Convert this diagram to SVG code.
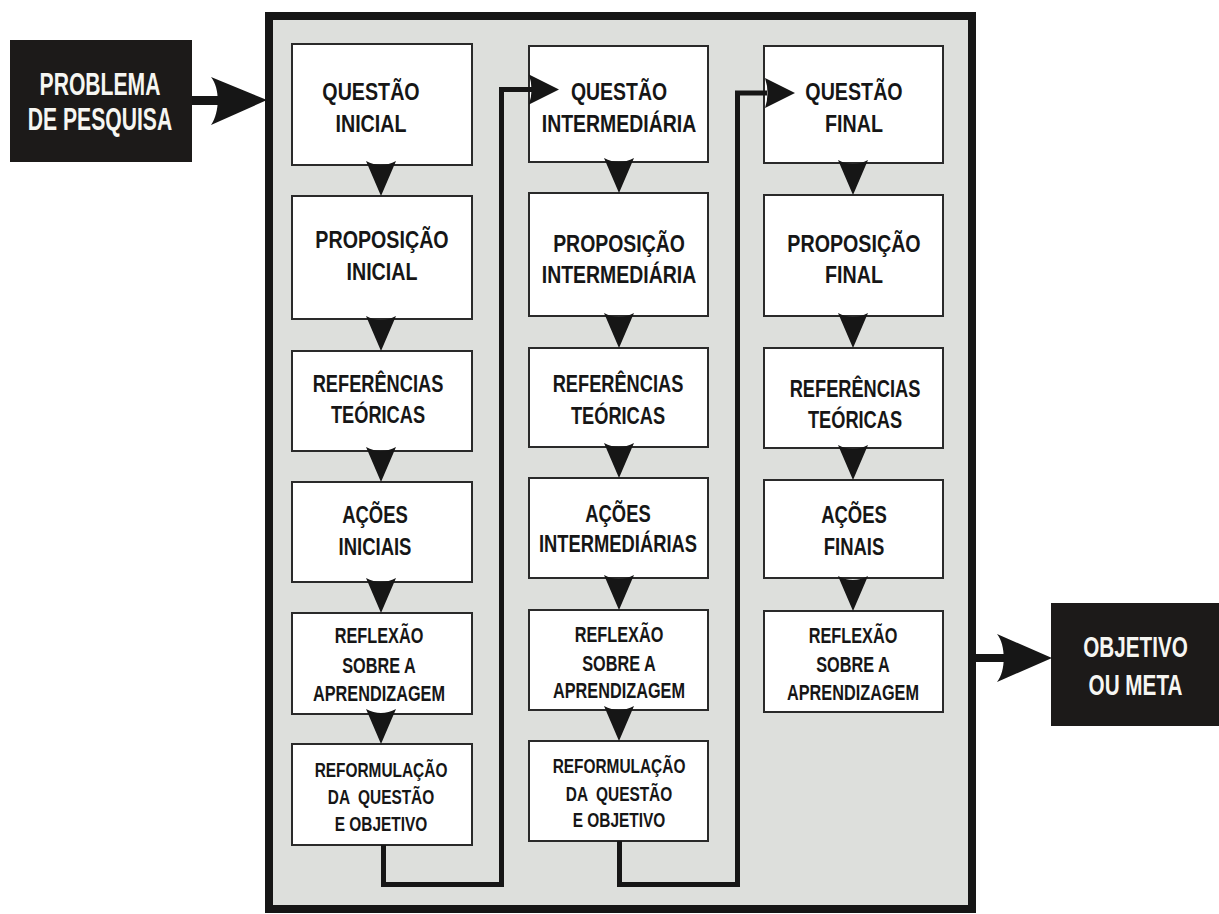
<svg xmlns="http://www.w3.org/2000/svg" width="1219" height="914" viewBox="0 0 1219 914">
  <style>
    text { font-family: "Liberation Sans", Arial, sans-serif; font-weight: bold; text-anchor: middle; fill: #161616; }
    .box { fill: #ffffff; stroke: #2a2a2a; stroke-width: 2; }
    .dark { fill: #1c1a19; }
    .dark-t { fill: #f6f6f2; font-size: 32px; }
    .dark-o { fill: #f6f6f2; font-size: 30px; }
    .t1 { font-size: 24px; }
    .t2 { font-size: 24px; }
    .t3 { font-size: 22px; }
    .t4 { font-size: 21px; }
    .wire { fill: none; stroke: #161616; stroke-width: 5; stroke-linejoin: miter; }
    .head { fill: #161616; }
  </style>
  <defs>
    <!-- downward arrowhead, tip at origin -->
    <path id="dn" d="M0,0 L-15,-35 Q0,-27 15,-35 Z"/>
    <!-- rightward arrowhead, tip at origin -->
    <path id="rt" d="M0,0 L-30,-15 Q-25,0 -30,15 Z"/>
  </defs>

  <rect width="1219" height="914" fill="#ffffff"/>

  <!-- frame around the three columns -->
  <g id="frame">
    <rect x="269" y="16" width="703" height="893" fill="#dddfdc" stroke="#161616" stroke-width="8"/>
  </g>

  <!-- external nodes -->
  <g id="n-problema">
    <rect class="dark" x="10" y="40" width="182" height="122"/>
    <g transform="translate(100 0) scale(0.66 1)">
      <text class="dark-t" x="0" y="95">PROBLEMA</text>
      <text class="dark-t" x="0" y="130">DE PESQUISA</text>
    </g>
  </g>
  <g id="n-objetivo">
    <rect class="dark" x="1051" y="603" width="168" height="123"/>
    <g transform="translate(1135.5 0) scale(0.69 1)">
      <text class="dark-o" x="0" y="657">OBJETIVO</text>
      <text class="dark-o" x="0" y="695">OU META</text>
    </g>
  </g>

  <!-- column 1 -->
  <g id="n-q1">
    <rect class="box" x="292" y="44" width="180" height="121"/>
    <g transform="translate(371 0) scale(0.82 1)">
      <text class="t1" x="0" y="100">QUESTÃO</text>
      <text class="t1" x="0" y="132">INICIAL</text>
    </g>
  </g>
  <g id="n-p1">
    <rect class="box" x="292" y="196" width="180" height="123"/>
    <g transform="translate(382 0) scale(0.82 1)">
      <text class="t1" x="0" y="248">PROPOSIÇÃO</text>
      <text class="t1" x="0" y="280">INICIAL</text>
    </g>
  </g>
  <g id="n-r1">
    <rect class="box" x="292" y="351" width="180" height="100"/>
    <g transform="translate(378 0) scale(0.76 1)">
      <text class="t2" x="0" y="392">REFERÊNCIAS</text>
      <text class="t2" x="0" y="423">TEÓRICAS</text>
    </g>
  </g>
  <g id="n-a1">
    <rect class="box" x="292" y="482" width="180" height="100"/>
    <g transform="translate(375 0) scale(0.77 1)">
      <text class="t2" x="0" y="523">AÇÕES</text>
      <text class="t2" x="0" y="555">INICIAIS</text>
    </g>
  </g>
  <g id="n-x1">
    <rect class="box" x="292" y="613" width="180" height="101"/>
    <g transform="translate(379 0) scale(0.74 1)">
      <text class="t3" x="0" y="643">REFLEXÃO</text>
      <text class="t3" x="0" y="673">SOBRE A</text>
      <text class="t3" x="0" y="701">APRENDIZAGEM</text>
    </g>
  </g>
  <g id="n-m1">
    <rect class="box" x="292" y="744" width="180" height="101"/>
    <g transform="translate(381 0) scale(0.735 1)">
      <text class="t4" x="0" y="777">REFORMULAÇÃO</text>
      <text class="t4" x="0" y="804" xml:space="preserve">DA  QUESTÃO</text>
      <text class="t4" x="0" y="831">E OBJETIVO</text>
    </g>
  </g>

  <!-- column 2 -->
  <g id="n-q2">
    <rect class="box" x="529" y="46" width="179" height="116"/>
    <g transform="translate(619 0) scale(0.81 1)">
      <text class="t1" x="0" y="100">QUESTÃO</text>
      <text class="t1" x="0" y="132">INTERMEDIÁRIA</text>
    </g>
  </g>
  <g id="n-p2">
    <rect class="box" x="529" y="193" width="179" height="123"/>
    <g transform="translate(619 0) scale(0.81 1)">
      <text class="t1" x="0" y="252">PROPOSIÇÃO</text>
      <text class="t1" x="0" y="283">INTERMEDIÁRIA</text>
    </g>
  </g>
  <g id="n-r2">
    <rect class="box" x="529" y="348" width="179" height="99"/>
    <g transform="translate(618 0) scale(0.76 1)">
      <text class="t2" x="0" y="392">REFERÊNCIAS</text>
      <text class="t2" x="0" y="424">TEÓRICAS</text>
    </g>
  </g>
  <g id="n-a2">
    <rect class="box" x="529" y="478" width="179" height="100"/>
    <g transform="translate(618 0) scale(0.765 1)">
      <text class="t2" x="0" y="522">AÇÕES</text>
      <text class="t2" x="0" y="552">INTERMEDIÁRIAS</text>
    </g>
  </g>
  <g id="n-x2">
    <rect class="box" x="529" y="610" width="179" height="100"/>
    <g transform="translate(619 0) scale(0.74 1)">
      <text class="t3" x="0" y="642">REFLEXÃO</text>
      <text class="t3" x="0" y="671">SOBRE A</text>
      <text class="t3" x="0" y="698">APRENDIZAGEM</text>
    </g>
  </g>
  <g id="n-m2">
    <rect class="box" x="529" y="741" width="179" height="100"/>
    <g transform="translate(619 0) scale(0.735 1)">
      <text class="t4" x="0" y="773">REFORMULAÇÃO</text>
      <text class="t4" x="0" y="801" xml:space="preserve">DA  QUESTÃO</text>
      <text class="t4" x="0" y="827">E OBJETIVO</text>
    </g>
  </g>

  <!-- column 3 -->
  <g id="n-q3">
    <rect class="box" x="764" y="46" width="179" height="117"/>
    <g transform="translate(854 0) scale(0.82 1)">
      <text class="t1" x="0" y="100">QUESTÃO</text>
      <text class="t1" x="0" y="132">FINAL</text>
    </g>
  </g>
  <g id="n-p3">
    <rect class="box" x="764" y="195" width="179" height="121"/>
    <g transform="translate(854 0) scale(0.82 1)">
      <text class="t1" x="0" y="252">PROPOSIÇÃO</text>
      <text class="t1" x="0" y="283">FINAL</text>
    </g>
  </g>
  <g id="n-r3">
    <rect class="box" x="764" y="348" width="179" height="100"/>
    <g transform="translate(855 0) scale(0.76 1)">
      <text class="t2" x="0" y="397">REFERÊNCIAS</text>
      <text class="t2" x="0" y="428">TEÓRICAS</text>
    </g>
  </g>
  <g id="n-a3">
    <rect class="box" x="764" y="480" width="179" height="98"/>
    <g transform="translate(854 0) scale(0.77 1)">
      <text class="t2" x="0" y="523">AÇÕES</text>
      <text class="t2" x="0" y="555">FINAIS</text>
    </g>
  </g>
  <g id="n-x3">
    <rect class="box" x="764" y="611" width="179" height="101"/>
    <g transform="translate(853 0) scale(0.74 1)">
      <text class="t3" x="0" y="643">REFLEXÃO</text>
      <text class="t3" x="0" y="672">SOBRE A</text>
      <text class="t3" x="0" y="700">APRENDIZAGEM</text>
    </g>
  </g>

  <!-- connectors -->
  <g id="connectors">
    <!-- entry and exit -->
    <line x1="192" y1="100.5" x2="220" y2="100.5" stroke="#161616" stroke-width="9"/>
    <path class="head" d="M267,100 L211,77 C220,88 220,112 211,125 Z"/>
    <line x1="976" y1="658" x2="1004" y2="658" stroke="#161616" stroke-width="8"/>
    <path class="head" d="M1052,658 L997,634 C1006,645 1006,671 997,682 Z"/>

    <!-- column 1 downward steps -->
    <use href="#dn" class="head" x="381" y="196"/>
    <use href="#dn" class="head" x="381" y="351"/>
    <use href="#dn" class="head" x="381" y="482"/>
    <use href="#dn" class="head" x="381" y="613"/>
    <use href="#dn" class="head" x="381" y="744"/>

    <!-- column 2 downward steps -->
    <use href="#dn" class="head" x="619" y="193"/>
    <use href="#dn" class="head" x="619" y="348"/>
    <use href="#dn" class="head" x="619" y="478"/>
    <use href="#dn" class="head" x="619" y="610"/>
    <use href="#dn" class="head" x="619" y="741"/>

    <!-- column 3 downward steps -->
    <use href="#dn" class="head" x="853" y="195"/>
    <use href="#dn" class="head" x="853" y="348"/>
    <use href="#dn" class="head" x="853" y="480"/>
    <use href="#dn" class="head" x="853" y="611"/>

    <!-- loop from column 1 to column 2 -->
    <polyline class="wire" points="383.5,845 383.5,884.5 501.5,884.5 501.5,89.5 532,89.5"/>
    <use href="#rt" class="head" x="559" y="89.5"/>

    <!-- loop from column 2 to column 3 -->
    <polyline class="wire" points="619.5,841 619.5,884.5 737.5,884.5 737.5,93 767,93"/>
    <use href="#rt" class="head" x="795" y="93"/>
  </g>
</svg>
